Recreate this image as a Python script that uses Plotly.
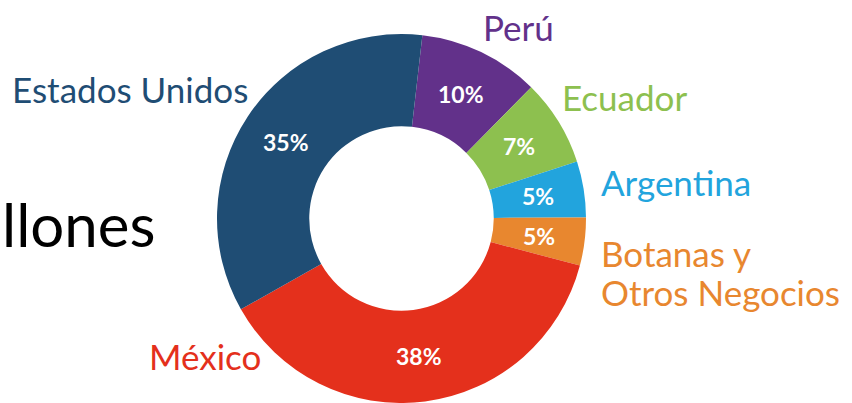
import math
import plotly.graph_objects as go

# Data
regions = ["Perú", "Ecuador", "Argentina", "Botanas y Otros Negocios", "México", "Estados Unidos"]
shares = [10.6, 7.6, 4.9, 4.2, 37.7, 35.0]          # slice sizes as drawn
pct_labels = ["10%", "7%", "5%", "5%", "38%", "35%"]  # printed percentages
label_texts = ["Perú", "Ecuador", "Argentina", "Botanas y<br>Otros Negocios", "México", "Estados Unidos"]
side_title = "llones"

# Styles / layout
colors = ["#62318A", "#8DC04F", "#22A4DD", "#E8872F", "#E4301C", "#1F4D74"]
W, H = 852, 403
# label anchor positions (pixels, first-line centre) and anchors
label_pos = [(481, 27, "left"), (560, 97, "left"), (599, 182, "left"),
             (599, 253, "left"), (263, 356, "right"), (250, 89, "right")]
line_gap = 39
cx, cy, r = 401.5, 218.5, 184.5
hole = 0.5
rotation = 6.5

fig = go.Figure(go.Pie(
    labels=regions, values=shares, text=pct_labels,
    textinfo="none",
    marker=dict(colors=colors, line=dict(width=0)),
    hole=hole, sort=False, direction="clockwise", rotation=rotation,
    domain=dict(x=[(cx - r) / W, (cx + r) / W], y=[0, (H - (cy - r)) / H]),
    showlegend=False, hoverinfo="label+text",
))

annotations = []
# percentage labels at the middle of each ring segment (derived from the data)
total = sum(shares)
start = rotation
r_mid = r * (1 + hole) / 2
for val, pct in zip(shares, pct_labels):
    mid = math.radians(start + 360 * val / total / 2)
    start += 360 * val / total
    px = cx + r_mid * math.sin(mid)
    py = cy - r_mid * math.cos(mid)
    annotations.append(dict(
        text=pct, x=px / W, y=1 - py / H, xref="paper", yref="paper",
        xanchor="center", yanchor="middle", showarrow=False,
        font=dict(family="Lato", size=23, color="white", weight="bold")))

# outside labels
for txt, col, (px, py, anchor) in zip(label_texts, colors, label_pos):
    for i, line in enumerate(txt.split("<br>")):
        annotations.append(dict(
            text=line, x=px / W, y=1 - (py + i * line_gap) / H, xref="paper", yref="paper",
            xanchor=anchor, yanchor="middle", showarrow=False,
            font=dict(family="Lato", size=35, color=col)))

annotations.append(dict(
    text=side_title, x=0, y=1 - 224 / H, xref="paper", yref="paper",
    xanchor="left", yanchor="middle", showarrow=False,
    font=dict(family="Lato", size=60, color="black")))

fig.update_layout(
    width=W, height=H, margin=dict(l=0, r=0, t=0, b=0),
    paper_bgcolor="white", plot_bgcolor="white",
    annotations=annotations,
)

fig.write_html(
    "out.html",
    config={"displayModeBar": False},
    post_script="document.body.style.margin='0';document.body.style.overflow='hidden';",
)
